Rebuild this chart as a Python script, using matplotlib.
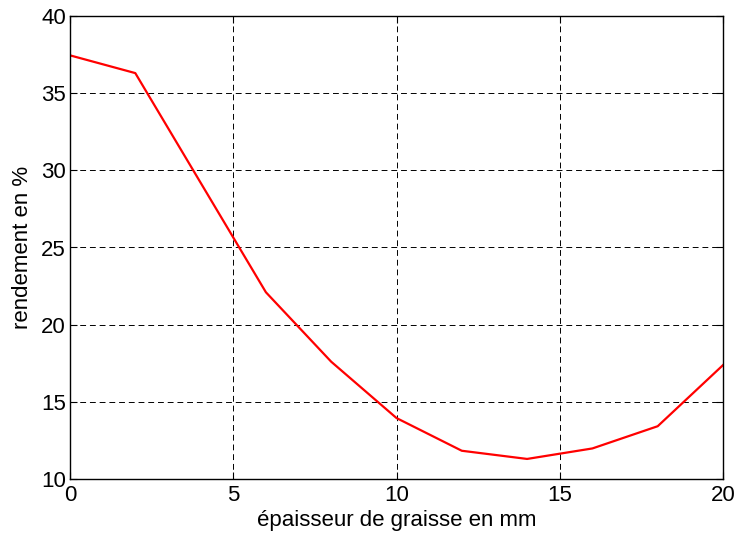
import matplotlib
matplotlib.use('Agg')
import matplotlib.pyplot as plt

epaisseur = [0, 2, 4, 6, 8, 10, 12, 14, 16, 18, 20]  # mm
rendement = [37.45, 36.3, 29.2, 22.1, 17.6, 13.95, 11.83, 11.3, 11.98, 13.42, 17.38]  # %

xticks = [0, 5, 10, 15, 20]
yticks = [10, 15, 20, 25, 30, 35, 40]

plt.rcParams['font.family'] = ['Liberation Sans', 'DejaVu Sans']
plt.rcParams['font.size'] = 16

fig = plt.figure(figsize=(7.36, 5.35), dpi=100)
ax = fig.add_axes([70/736, 1 - 479/535, (723 - 70)/736, (479 - 16)/535])

ax.plot(epaisseur, rendement, color='red', linewidth=1.6)

ax.set_xlim(0, 20)
ax.set_ylim(10, 40)
ax.set_xticks(xticks)
ax.set_yticks(yticks)
ax.grid(True, color='black', linestyle=(0, (6, 4)), linewidth=0.7)
ax.tick_params(direction='in', top=True, right=True, length=5, width=0.8, pad=3)
ax.tick_params(axis='x', pad=4)
for s in ax.spines.values():
    s.set_linewidth(1.0)

ax.set_xlabel('épaisseur de graisse en mm', labelpad=3)
ax.set_ylabel('rendement en %', labelpad=6)

fig.savefig('out.png', dpi=100)
